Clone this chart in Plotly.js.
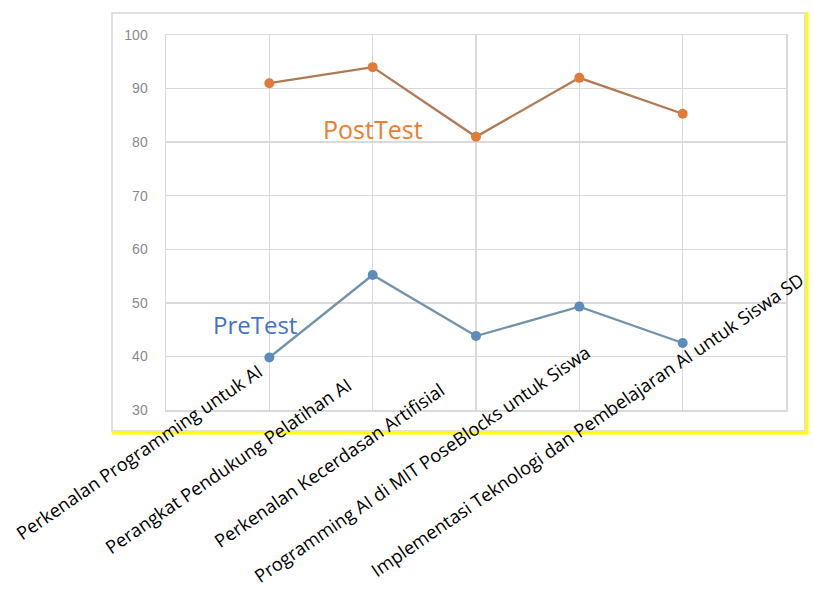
<!DOCTYPE html>
<html>
<head>
<meta charset="utf-8">
<script src="https://cdn.plot.ly/plotly-3.0.1.min.js"></script>
<style>html,body{margin:0;padding:0;background:#fff;}#chart{width:813px;height:589px;}</style>
</head>
<body>
<div id="chart"></div>
<script>
// ---- data ----
var categories = [
  "Perkenalan Programming untuk AI",
  "Perangkat Pendukung Pelatihan AI",
  "Perkenalan Kecerdasan Artifisial",
  "Programming AI di MIT PoseBlocks untuk Siswa",
  "Implementasi Teknologi dan Pembelajaran AI untuk Siswa SD"
];
var postTest = [91, 94, 81, 92, 85.3];
var preTest = [39.8, 55.2, 43.8, 49.3, 42.5];
var seriesNames = ["PostTest", "PreTest"];
var yTickValues = [30, 40, 50, 60, 70, 80, 90, 100];

// ---- label placement (pixel offsets of each category label's top-right corner) ----
var labelShiftX = [0, -14, -24, 18, 128];
var labelShiftY = [55, 41, 36, 73, 146];

var traces = [
  {
    x: categories, y: postTest, name: seriesNames[0], type: "scatter", mode: "lines+markers",
    line: {color: "#b07a55", width: 2.3},
    marker: {color: "#e07b39", size: 10}
  },
  {
    x: categories, y: preTest, name: seriesNames[1], type: "scatter", mode: "lines+markers",
    line: {color: "#7592ab", width: 2.3},
    marker: {color: "#5b8cbc", size: 10}
  }
];

var annotations = categories.map(function (c, i) {
  return {
    x: c, xref: "x", y: 30, yref: "y",
    text: c, showarrow: false, textangle: -34.5,
    xanchor: "right", yanchor: "top",
    xshift: labelShiftX[i], yshift: labelShiftY[i],
    font: {family: "Open Sans", size: 18.3, color: "#000"}
  };
});
annotations.push({
  x: categories[1], xref: "x", y: postTest[2] + 1.5, yref: "y",
  text: seriesNames[0], showarrow: false, xanchor: "center", yanchor: "middle",
  font: {family: "Open Sans", size: 25, color: "#ed7d31"}
});
annotations.push({
  x: categories[0], xref: "x", y: preTest[0] + 6.1, yref: "y",
  text: seriesNames[1], showarrow: false, xanchor: "center", yanchor: "middle", xshift: -14,
  font: {family: "Open Sans", size: 24, color: "#4472c4"}
});

var W = 620, H = 375;
function px(p) { return (p - 166) / W; }
function py(p) { return (410 - p) / H; }

var layout = {
  width: 813, height: 589,
  margin: {l: 166, r: 27, t: 35, b: 179},
  paper_bgcolor: "#fff", plot_bgcolor: "#fff",
  showlegend: false,
  xaxis: {
    type: "category", range: [-1, 5], showticklabels: false,
    showgrid: true, gridcolor: "#dadada", gridwidth: 1.5,
    showline: true, mirror: true, linecolor: "#dadada", linewidth: 1.5,
    zeroline: false, ticks: ""
  },
  yaxis: {
    range: [30, 100], tickvals: yTickValues, showgrid: true,
    gridcolor: "#dadada", gridwidth: 1.5,
    showline: true, mirror: true, linecolor: "#dadada", linewidth: 1.5,
    zeroline: false, ticks: "", ticklabelstandoff: 14,
    tickfont: {family: "Liberation Sans", size: 14, color: "#8a8a8a"}
  },
  annotations: annotations,
  shapes: [
    {type: "rect", xref: "paper", yref: "paper", x0: px(112), x1: px(805), y0: py(431), y1: py(13),
     line: {color: "#d6d6d6", width: 1.5}, layer: "below"},
    {type: "line", xref: "paper", yref: "paper", x0: px(807), x1: px(807), y0: py(434), y1: py(12),
     line: {color: "#ffff00", width: 3}},
    {type: "line", xref: "paper", yref: "paper", x0: px(112), x1: px(808.5), y0: py(433), y1: py(433),
     line: {color: "#ffff00", width: 3}}
  ]
};

Plotly.newPlot("chart", traces, layout, {displayModeBar: false, staticPlot: true});
</script>
</body>
</html>
